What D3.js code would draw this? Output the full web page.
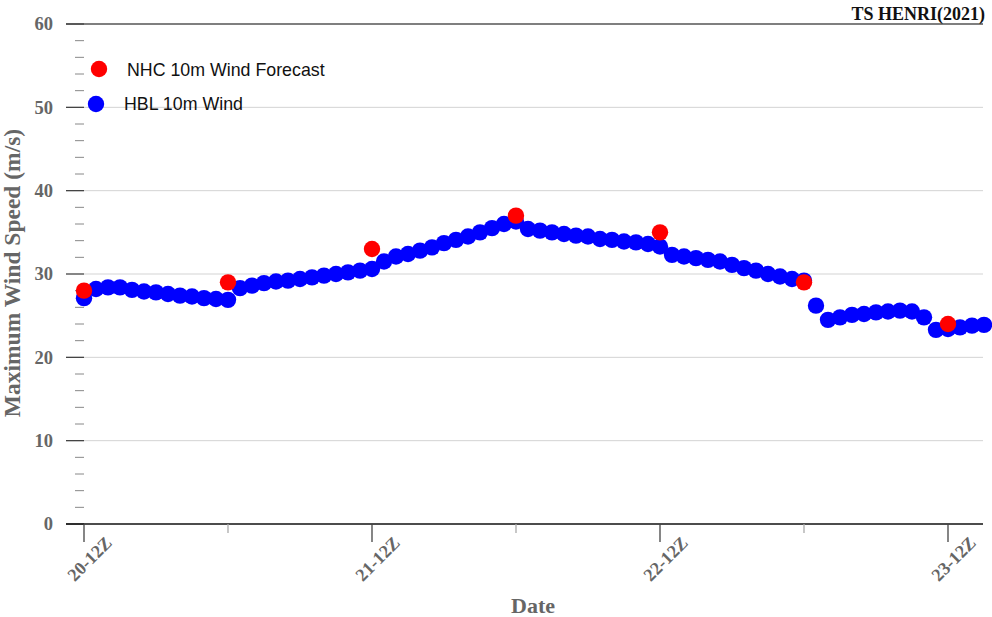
<!DOCTYPE html>
<html><head><meta charset="utf-8">
<script src="https://cdn.jsdelivr.net/npm/d3@7"></script>
<style>body{margin:0;background:#fff}svg{display:block}</style>
</head><body>
<svg id="c" width="992" height="617"></svg>
<script>
// Data
const hblValues = [27.1,28.2,28.4,28.4,28.1,27.9,27.8,27.6,27.4,27.3,27.1,27.0,26.9,
  28.3,28.6,28.9,29.1,29.2,29.4,29.6,29.8,30.0,30.2,30.4,30.6,
  31.5,32.1,32.4,32.8,33.2,33.7,34.1,34.5,35.0,35.5,36.0,36.3,
  35.4,35.2,35.0,34.8,34.6,34.5,34.2,34.1,33.9,33.8,33.6,33.3,
  32.3,32.1,31.9,31.7,31.5,31.1,30.7,30.4,30.0,29.7,29.4,29.2,
  26.2,24.5,24.8,25.1,25.2,25.4,25.5,25.6,25.5,24.8,23.3,23.4,23.6,23.8,23.9];
const hblHours = hblValues.map((_, i) => i);
const nhcHours = [0, 12, 24, 36, 48, 60, 72];
const nhcValues = [28, 29, 33, 37, 35, 29, 24];
const xTickHours = [0, 12, 24, 36, 48, 60, 72];
const xTickLabels = ["20-12Z", "", "21-12Z", "", "22-12Z", "", "23-12Z"];
const yMajorTicks = [0, 10, 20, 30, 40, 50, 60];
const title = "TS HENRI(2021)";
const legendLabels = ["NHC 10m Wind Forecast", "HBL 10m Wind"];

const svg = d3.select("#c");
const pLeft = 66, pRight = 983, pTop = 24, pBottom = 524;
const x = d3.scaleLinear().domain([0, 72]).range([84, 948]);
const y = d3.scaleLinear().domain([0, 60]).range([pBottom, pTop]);
const serif = "'Liberation Serif','Times New Roman',serif";
const sans = "'Liberation Sans',Arial,sans-serif";

// gridlines
const g = svg.append("g");
g.selectAll("line.grid").data(yMajorTicks.filter(v => v > 0 && v < 60)).join("line")
  .attr("x1", 84).attr("x2", pRight).attr("y1", d => y(d)).attr("y2", d => y(d))
  .attr("stroke", "#d3d3d3").attr("stroke-width", 1);
// top line
g.append("line").attr("x1", pLeft).attr("x2", pRight).attr("y1", y(60)).attr("y2", y(60))
  .attr("stroke", "#555").attr("stroke-width", 1.3);
// major y ticks
g.selectAll("line.ymaj").data(yMajorTicks).join("line")
  .attr("x1", pLeft).attr("x2", 84).attr("y1", d => y(d)).attr("y2", d => y(d))
  .attr("stroke", "#444").attr("stroke-width", 1.3);
// minor y ticks
const yMinor = d3.range(0, 61, 2).filter(v => v % 10 !== 0);
g.selectAll("line.ymin").data(yMinor).join("line")
  .attr("x1", 75).attr("x2", 84).attr("y1", d => y(d)).attr("y2", d => y(d))
  .attr("stroke", "#888").attr("stroke-width", 1);
// y labels
g.selectAll("text.ylab").data(yMajorTicks).join("text")
  .attr("x", 53).attr("y", d => y(d)).attr("dy", "0.35em")
  .attr("text-anchor", "end").attr("font-family", serif).attr("font-weight", "bold")
  .attr("font-size", 18.5).attr("fill", "#666").text(d => d);

// x axis line
g.append("line").attr("x1", pLeft).attr("x2", pRight).attr("y1", pBottom).attr("y2", pBottom)
  .attr("stroke", "#111").attr("stroke-width", 1.3);
g.selectAll("line.xt").data(xTickHours).join("line")
  .attr("x1", d => x(d)).attr("x2", d => x(d)).attr("y1", pBottom)
  .attr("y2", (d, i) => xTickLabels[i] ? pBottom + 18 : pBottom + 9)
  .attr("stroke", (d, i) => xTickLabels[i] ? "#444" : "#aaa").attr("stroke-width", 1.3);
g.selectAll("text.xlab").data(xTickHours.filter((d, i) => xTickLabels[i])).join("text")
  .attr("transform", d => `translate(${x(d) + 29},${pBottom + 20}) rotate(-45)`)
  .attr("text-anchor", "end").attr("font-family", serif).attr("font-weight", "bold")
  .attr("font-size", 18).attr("fill", "#666")
  .text(d => xTickLabels[xTickHours.indexOf(d)]);

// axis titles
svg.append("text").attr("x", 533).attr("y", 613).attr("text-anchor", "middle")
  .attr("font-family", serif).attr("font-weight", "bold").attr("font-size", 22)
  .attr("fill", "#666").text("Date");
svg.append("text").attr("transform", "translate(12,273) rotate(-90)")
  .attr("text-anchor", "middle").attr("dy", "0.35em")
  .attr("font-family", serif).attr("font-weight", "bold").attr("font-size", 23.5)
  .attr("fill", "#666").text("Maximum Wind Speed (m/s)");

// title
svg.append("text").attr("x", 985).attr("y", 20).attr("text-anchor", "end")
  .attr("font-family", serif).attr("font-weight", "bold").attr("font-size", 18)
  .attr("fill", "#111").text(title);

// data
svg.append("g").selectAll("circle").data(hblHours).join("circle")
  .attr("cx", d => x(d)).attr("cy", (d, i) => y(hblValues[i])).attr("r", 8.2)
  .attr("fill", "#0000ff");
svg.append("g").selectAll("circle").data(nhcHours).join("circle")
  .attr("cx", d => x(d)).attr("cy", (d, i) => y(nhcValues[i])).attr("r", 8.2)
  .attr("fill", "#ff0000");

// legend
const lg = svg.append("g");
lg.append("circle").attr("cx", 99).attr("cy", 69).attr("r", 8.2).attr("fill", "#ff0000");
lg.append("circle").attr("cx", 96).attr("cy", 104).attr("r", 8.2).attr("fill", "#0000ff");
lg.append("text").attr("x", 127).attr("y", 69.3).attr("dy", "0.35em")
  .attr("font-family", sans).attr("font-size", 17.8).attr("fill", "#111").text(legendLabels[0]);
lg.append("text").attr("x", 124).attr("y", 103.8).attr("dy", "0.35em")
  .attr("font-family", sans).attr("font-size", 17.8).attr("fill", "#111").text(legendLabels[1]);
</script>
</body></html>
